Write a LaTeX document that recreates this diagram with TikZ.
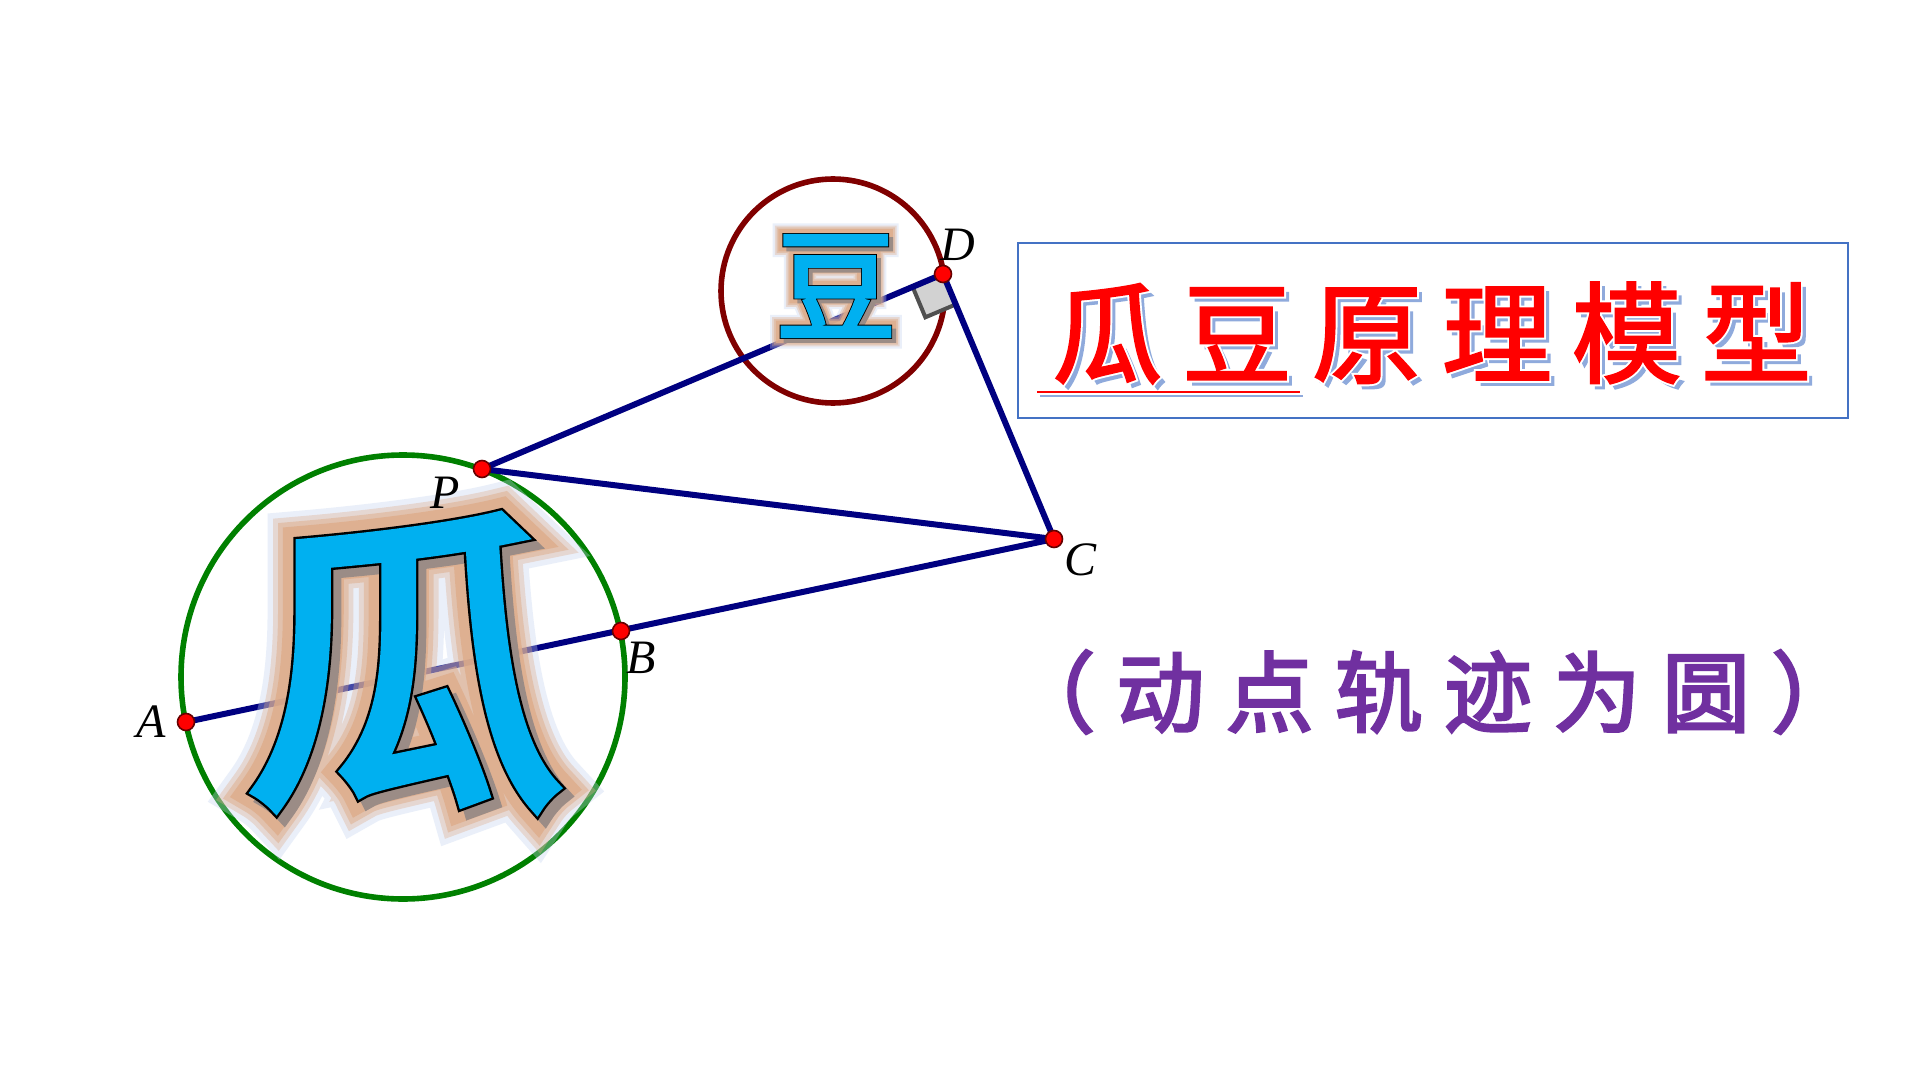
\documentclass[tikz,border=0pt]{standalone}
\usepackage{fontspec}
\setmainfont{Liberation Serif}
\newfontfamily\cjkfill[FakeBold=3.5]{Noto Sans CJK SC}
\newfontfamily\cjkedge[FakeBold=5]{Noto Sans CJK SC}
\newfontfamily\cjkglowa[FakeBold=21]{Noto Sans CJK SC}
\newfontfamily\cjkglowb[FakeBold=17.5]{Noto Sans CJK SC}
\newfontfamily\cjkglowc[FakeBold=14.5]{Noto Sans CJK SC}
\newfontfamily\cjkglowd[FakeBold=11.5]{Noto Sans CJK SC}
\newfontfamily\titlefill[FakeBold=2,LetterSpace=18]{Noto Sans CJK SC}
\newfontfamily\titleedge[FakeBold=5.5,LetterSpace=18]{Noto Sans CJK SC}
\newfontfamily\subfill[FakeBold=3,LetterSpace=24]{Noto Sans CJK SC}
\usetikzlibrary{calc}
\definecolor{navy}{RGB}{0,0,128}
\definecolor{ringgreen}{RGB}{0,128,0}
\definecolor{ringred}{RGB}{128,0,0}
\definecolor{glyphblue}{RGB}{0,176,240}
\definecolor{glowtan}{RGB}{222,172,138}
\definecolor{glowblue}{RGB}{195,212,240}
\definecolor{shadegray}{RGB}{155,140,134}
\definecolor{markgray}{RGB}{210,210,210}
\definecolor{markedge}{RGB}{80,80,80}
\definecolor{boxblue}{RGB}{68,114,196}
\definecolor{titleshade}{RGB}{143,170,220}
\definecolor{subpurple}{RGB}{112,48,160}

\begin{document}
\begin{tikzpicture}[x=0.5pt,y=-0.5pt,
  seg/.style={line width=3pt,draw=navy,line cap=round},
  ring/.style={line width=2.8pt},
  pt/.style={circle,fill=red,draw=black!60!red,line width=0.8pt,inner sep=0pt,minimum size=8.5pt},
  lbl/.style={font=\fontsize{24}{24}\selectfont\itshape,inner sep=0pt},
  big/.style={inner sep=0pt,font=\fontsize{160}{160}\selectfont},
  small/.style={inner sep=0pt,font=\fontsize{60}{60}\selectfont},
  title/.style={inner sep=0pt,anchor=west,font=\fontsize{55}{55}\selectfont},
  sub/.style={inner sep=0pt,anchor=west,font=\fontsize{44}{44}\selectfont}]
\fill[white] (0,0) rectangle (1920,1080);
\useasboundingbox (0,0) rectangle (1920,1080);

\coordinate (A) at (186,722);
\coordinate (B) at (621,631);
\coordinate (C) at (1054,539);
\coordinate (D) at (943,274);
\coordinate (P) at (482,469);
\coordinate (guapos) at (405,662);
\coordinate (doupos) at (836,286);

\draw[ring,ringgreen] (403,677) circle[radius=111pt];
\draw[ring,ringred] (833,291) circle[radius=56pt];

\coordinate (rP) at ($(D)!16.5pt!(P)$);
\coordinate (rC) at ($(D)!16.5pt!(C)$);
\coordinate (rQ) at ($(rP)+(rC)-(D)$);
\fill[markgray] (D) -- (rP) -- (rQ) -- (rC) -- cycle;
\draw[line width=2pt,markedge] (rP) -- (rQ) -- (rC);

\draw[seg] (A) -- (C);
\draw[seg] (P) -- (C);
\draw[seg] (P) -- (D);
\draw[seg] (D) -- (C);

% glow round the two characters
\node[big,text=glowblue,opacity=0.35] (guaglowa) at (guapos) {\cjkglowa 瓜};
\node[big,text=glowtan,opacity=0.35] (guaglowb) at (guapos) {\cjkglowb 瓜};
\node[big,text=glowtan,opacity=0.5] (guaglowc) at (guapos) {\cjkglowc 瓜};
\node[big,text=glowtan,opacity=0.8] (guaglowd) at (guapos) {\cjkglowd 瓜};
\node[small,text=glowblue,opacity=0.35] (douglowa) at (doupos) {\cjkglowa 豆};
\node[small,text=glowtan,opacity=0.35] (douglowb) at (doupos) {\cjkglowb 豆};
\node[small,text=glowtan,opacity=0.5] (douglowc) at (doupos) {\cjkglowc 豆};
\node[small,text=glowtan,opacity=0.8] (douglowd) at (doupos) {\cjkglowd 豆};
\node[big,text=shadegray] (guashade) at ($(guapos)+(8,8)$) {\cjkedge 瓜};
\node[big,text=black] (guaedge) at (guapos) {\cjkedge 瓜};
\node[big,text=glyphblue] (gua) at (guapos) {\cjkfill 瓜};
\node[small,text=shadegray] (doushade) at ($(doupos)+(4,4)$) {\cjkedge 豆};
\node[small,text=black] (douedge) at (doupos) {\cjkedge 豆};
\node[small,text=glyphblue] (dou) at (doupos) {\cjkfill 豆};

\node[pt] (dotA) at (A) {};
\node[pt] (dotB) at (B) {};
\node[pt] (dotC) at (C) {};
\node[pt] (dotD) at (D) {};
\node[pt] (dotP) at (P) {};
\node[lbl] (labA) at (151,722) {A};
\node[lbl] (labB) at (641,658) {B};
\node[lbl] (labC) at (1080,560) {C};
\node[lbl] (labD) at (958,245) {D};
\node[lbl] (labP) at (445,493) {P};

\draw[line width=1pt,boxblue] (1018,243) rectangle (1848,418);
\node[title,text=titleshade] (titleshade) at (1057,338) {\titlefill 瓜豆原理模型};
\node[title,text=white] (titleedge) at (1052,333) {\titleedge 瓜豆原理模型};
\node[title,text=red] (titletext) at (1052,333) {\titlefill 瓜豆原理模型};
\coordinate (ulL) at (1037,392);
\coordinate (ulR) at (1300,392);
\draw[line width=1.2pt,titleshade] ($(ulL)+(3,4)$) -- ($(ulR)+(3,4)$);
\draw[line width=1pt,red] (ulL) -- (ulR);

\node[sub,text=subpurple] (subtitle) at (1007,692) {\subfill （动点轨迹为圆）};
\end{tikzpicture}
\end{document}
